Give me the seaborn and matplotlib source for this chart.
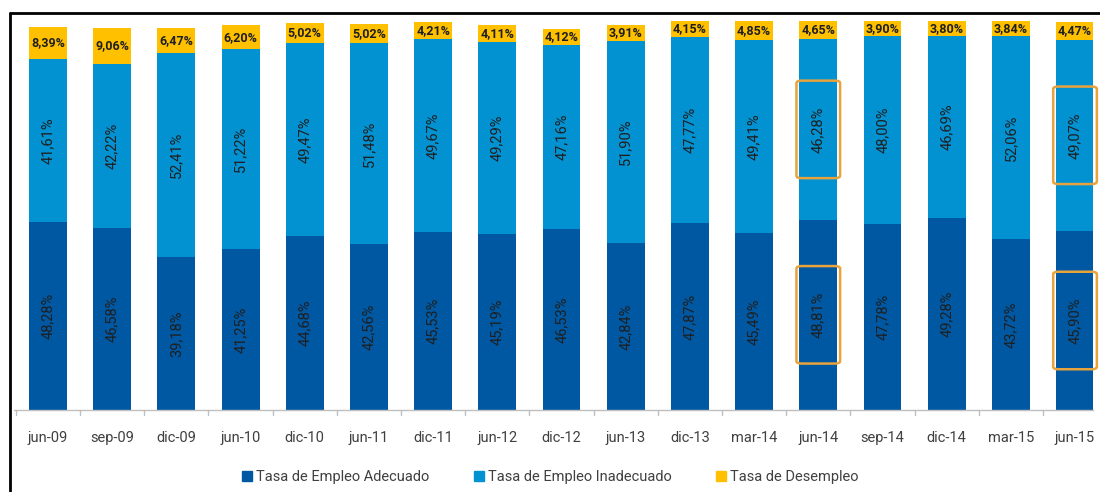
import matplotlib
matplotlib.use("Agg")
import matplotlib.pyplot as plt
from matplotlib.patches import FancyBboxPatch
from matplotlib.lines import Line2D
import numpy as np
import pandas as pd
import seaborn as sns

periods = ["jun-09", "sep-09", "dic-09", "jun-10", "dic-10", "jun-11", "dic-11", "jun-12",
           "dic-12", "jun-13", "dic-13", "mar-14", "jun-14", "sep-14", "dic-14", "mar-15", "jun-15"]
adecuado = [48.28, 46.58, 39.18, 41.25, 44.68, 42.56, 45.53, 45.19, 46.53, 42.84, 47.87,
            45.49, 48.81, 47.78, 49.28, 43.72, 45.90]
inadecuado = [41.61, 42.22, 52.41, 51.22, 49.47, 51.48, 49.67, 49.29, 47.16, 51.90, 47.77,
              49.41, 46.28, 48.00, 46.69, 52.06, 49.07]
desempleo = [8.39, 9.06, 6.47, 6.20, 5.02, 5.02, 4.21, 4.11, 4.12, 3.91, 4.15, 4.85, 4.65,
             3.90, 3.80, 3.84, 4.47]
series_names = ["Tasa de Empleo Adecuado", "Tasa de Empleo Inadecuado", "Tasa de Desempleo"]
highlight = ["jun-14", "jun-15"]

c_dark = "#0058A3"
c_light = "#0292D2"
c_yellow = "#FFC000"

sns.set_theme(style="white")
plt.rcParams["font.family"] = ["Roboto", "DejaVu Sans"]

df = pd.DataFrame({"period": periods, "a": adecuado, "i": inadecuado, "d": desempleo})
df["ai"] = df["a"] + df["i"]
df["aid"] = df["ai"] + df["d"]

fig = plt.figure(figsize=(11, 4.92), dpi=100)
ax = fig.add_axes([14 / 1100, 82 / 492, (1093 - 14) / 1100, 390 / 492])

w = 0.59
sns.barplot(data=df, x="period", y="aid", color=c_yellow, saturation=1, width=w, ax=ax, order=periods)
sns.barplot(data=df, x="period", y="ai", color=c_light, saturation=1, width=w, ax=ax, order=periods)
sns.barplot(data=df, x="period", y="a", color=c_dark, saturation=1, width=w, ax=ax, order=periods)
for p in ax.patches:
    p.set_edgecolor("none")

txt_col = "#1f1f1f"
for k in range(len(periods)):
    a, i, d = adecuado[k], inadecuado[k], desempleo[k]
    ax.text(k, a / 2, f"{a:.2f}%".replace(".", ","), rotation=90, ha="center", va="center",
            fontsize=10.5, color=txt_col)
    ax.text(k, a + i / 2, f"{i:.2f}%".replace(".", ","), rotation=90, ha="center", va="center",
            fontsize=10.5, color=txt_col)
    ax.text(k, a + i + d / 2, f"{d:.2f}%".replace(".", ","), ha="center", va="center",
            fontsize=9, color=txt_col, fontweight="bold")

# highlight boxes
for name in highlight:
    k = periods.index(name)
    a, i = adecuado[k], inadecuado[k]
    for center in (a / 2, a + i / 2):
        box = FancyBboxPatch((k - 0.34, center - 12.5), 0.68, 25,
                             boxstyle="round,pad=0,rounding_size=0.08",
                             mutation_aspect=8, fill=False, edgecolor="#E8A33D", linewidth=1.8,
                             zorder=5, clip_on=False)
        ax.add_patch(box)

ax.set_xlim(-0.53, 16.28)
ax.set_ylim(0, 100)
ax.set_xlabel("")
ax.set_ylabel("")
ax.set_yticks([])
for s in ["top", "right", "left"]:
    ax.spines[s].set_visible(False)
ax.spines["bottom"].set_color("#BFBFBF")
ax.spines["bottom"].set_linewidth(1.0)
ax.set_xticks(range(len(periods)))
ax.set_xticklabels(periods, fontsize=10.5, color="#404040")
ax.tick_params(axis="x", length=0, pad=15)
for b in np.arange(-0.5, len(periods) - 0.4, 1.0):
    ax.plot([b, b], [0, -1.2], color="#BFBFBF", lw=1, clip_on=False)

handles = [Line2D([], [], marker="s", linestyle="none", markersize=7, color=c)
           for c in (c_dark, c_light, c_yellow)]
fig.legend(handles, series_names, loc="center", bbox_to_anchor=(0.5, 15 / 492), ncol=3,
           frameon=False, fontsize=10.5, labelcolor="#404040", handletextpad=0.2,
           columnspacing=3.0, handlelength=0.8)

# frame lines (top and left)
fig.add_artist(Line2D([10 / 1100, 1.0], [1 - 13 / 492, 1 - 13 / 492], color="black", lw=2,
                      transform=fig.transFigure))
fig.add_artist(Line2D([10 / 1100, 10 / 1100], [0, 1 - 13 / 492], color="black", lw=2,
                      transform=fig.transFigure))

fig.savefig("out.png", dpi=100, facecolor="white")
